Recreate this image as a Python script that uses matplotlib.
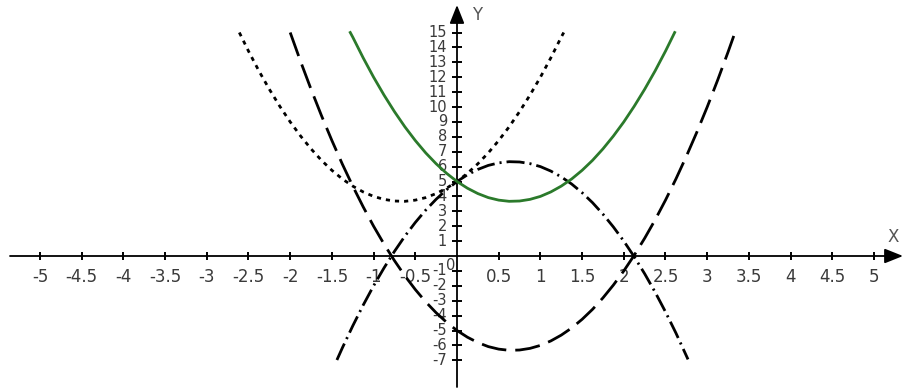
import matplotlib
matplotlib.use("Agg")
import matplotlib.pyplot as plt
import numpy as np

plt.rcParams['lines.scale_dashes'] = False

# ---- data ----
green_x = [-1.28, -1.25, -1.125, -1.0, -0.875, -0.75, -0.625, -0.5, -0.375, -0.25, -0.125, 0.0,
           0.125, 0.25, 0.375, 0.5, 0.625, 0.75, 0.875, 1.0, 1.125, 1.25, 1.375, 1.5, 1.625,
           1.75, 1.875, 2.0, 2.125, 2.25, 2.375, 2.5, 2.61]
green_y = [15.0, 14.69, 13.30, 12.0, 10.80, 9.69, 8.67, 7.75, 6.92, 6.19, 5.55, 5.0,
           4.55, 4.19, 3.92, 3.75, 3.67, 3.69, 3.80, 4.0, 4.30, 4.69, 5.17, 5.75, 6.42,
           7.19, 8.05, 9.0, 10.05, 11.19, 12.42, 13.75, 15.0]

dotted_x = [-2.61, -2.5, -2.375, -2.25, -2.125, -2.0, -1.875, -1.75, -1.625, -1.5, -1.375, -1.25,
            -1.125, -1.0, -0.875, -0.75, -0.625, -0.5, -0.375, -0.25, -0.125, 0.0, 0.125, 0.25,
            0.375, 0.5, 0.625, 0.75, 0.875, 1.0, 1.125, 1.25, 1.28]
dotted_y = [15.0, 13.75, 12.42, 11.19, 10.05, 9.0, 8.05, 7.19, 6.42, 5.75, 5.17, 4.69,
            4.30, 4.0, 3.80, 3.69, 3.67, 3.75, 3.92, 4.19, 4.55, 5.0, 5.55, 6.19,
            6.92, 7.75, 8.67, 9.69, 10.80, 12.0, 13.30, 14.69, 15.0]

dashdot_x = [-1.44, -1.375, -1.25, -1.125, -1.0, -0.875, -0.75, -0.625, -0.5, -0.375, -0.25, -0.125,
             0.0, 0.125, 0.25, 0.375, 0.5, 0.625, 0.75, 0.875, 1.0, 1.125, 1.25, 1.375, 1.5,
             1.625, 1.75, 1.875, 2.0, 2.125, 2.25, 2.375, 2.5, 2.625, 2.77]
dashdot_y = [-6.98, -6.17, -4.69, -3.30, -2.0, -0.80, 0.31, 1.33, 2.25, 3.08, 3.81, 4.45,
             5.0, 5.45, 5.81, 6.08, 6.25, 6.33, 6.31, 6.20, 6.0, 5.70, 5.31, 4.83, 4.25,
             3.58, 2.81, 1.95, 1.0, -0.05, -1.19, -2.42, -3.75, -5.17, -6.94]

dash_x = [-2.0, -1.875, -1.75, -1.625, -1.5, -1.375, -1.25, -1.125, -1.0, -0.875, -0.75, -0.625,
          -0.5, -0.375, -0.25, -0.125, 0.0, 0.125, 0.25, 0.375, 0.5, 0.625, 0.75, 0.875, 1.0,
          1.125, 1.25, 1.375, 1.5, 1.625, 1.75, 1.875, 2.0, 2.125, 2.25, 2.375, 2.5, 2.625,
          2.75, 2.875, 3.0, 3.125, 3.25, 3.33]
dash_y = [15.0, 13.05, 11.19, 9.42, 7.75, 6.17, 4.69, 3.30, 2.0, 0.80, -0.31, -1.33,
          -2.25, -3.08, -3.81, -4.45, -5.0, -5.45, -5.81, -6.08, -6.25, -6.33, -6.31, -6.20, -6.0,
          -5.70, -5.31, -4.83, -4.25, -3.58, -2.81, -1.95, -1.0, 0.05, 1.19, 2.42, 3.75, 5.17,
          6.69, 8.30, 10.0, 11.80, 13.69, 14.95]

x_ticks = [-5, -4.5, -4, -3.5, -3, -2.5, -2, -1.5, -1, -0.5, 0.5, 1, 1.5, 2, 2.5, 3, 3.5, 4, 4.5, 5]
x_tick_labels = ['-5', '-4.5', '-4', '-3.5', '-3', '-2.5', '-2', '-1.5', '-1', '-0.5',
                 '0.5', '1', '1.5', '2', '2.5', '3', '3.5', '4', '4.5', '5']
y_ticks = [-7, -6, -5, -4, -3, -2, -1, 1, 2, 3, 4, 5, 6, 7, 8, 9, 10, 11, 12, 13, 14, 15]
y_tick_labels = [str(v) for v in y_ticks]

# ---- layout (pixel mapping) ----
W, H = 912, 389
ox, oy = 457.0, 256.0      # origin pixel
ux, uy = 83.4, 14.9        # pixels per unit

fig = plt.figure(figsize=(W / 100, H / 100), dpi=100)
ax = fig.add_axes([0, 0, 1, 1])
ax.set_xlim(-ox / ux, (W - ox) / ux)
ax.set_ylim(-(H - oy) / uy, oy / uy)
ax.axis('off')

txt_color = '#3a3a3a'
font = 'DejaVu Sans'

# axes with arrows
x_left, x_right = (10 - ox) / ux, (903 - ox) / ux
y_bottom, y_top = (oy - 387) / uy, (oy - 5) / uy
arrow = dict(arrowstyle='-|>,head_length=0.8,head_width=0.32', lw=1.3, color='black',
             mutation_scale=14, shrinkA=0, shrinkB=0)
ax.annotate('', xy=(x_right, 0), xytext=(x_left, 0), arrowprops=arrow, zorder=2)
ax.annotate('', xy=(0, y_top), xytext=(0, y_bottom), arrowprops=arrow, zorder=2)

# tick marks
ax.plot(x_ticks, np.zeros(len(x_ticks)), linestyle='none', marker='|', ms=6, mew=1.4, color='black', zorder=2)
ax.plot(np.zeros(len(y_ticks)), y_ticks, linestyle='none', marker='_', ms=7, mew=1.4, color='black', zorder=2)

# tick labels
for xv, lab in zip(x_ticks, x_tick_labels):
    ax.text(xv, -21 / uy, lab, ha='center', va='center', fontsize=12, color=txt_color, family=font)
for yv, lab in zip(y_ticks, y_tick_labels):
    ax.text(-10 / ux, yv, lab, ha='right', va='center', fontsize=10.5, color=txt_color, family=font)
ax.text(-2 / ux, -10 / uy, '0', ha='right', va='center', fontsize=10.5, color=txt_color, family=font)

# axis names
ax.text((893 - ox) / ux, (oy - 237) / uy, 'X', ha='center', va='center', fontsize=12, color='#555555', family=font)
ax.text((477 - ox) / ux, (oy - 15) / uy, 'Y', ha='center', va='center', fontsize=12, color='#555555', family=font)

lw = 2.0
ax.plot(dotted_x, dotted_y, color='black', lw=lw, dashes=(3.0, 3.6), zorder=3)
ax.plot(dash_x, dash_y, color='black', lw=lw, dashes=(18, 6.5), zorder=3)
ax.plot(dashdot_x, dashdot_y, color='black', lw=lw, dashes=(13, 3.6, 1.5, 3.6), zorder=3)
ax.plot(green_x, green_y, color='#2b7a2b', lw=lw, zorder=4)

fig.savefig('out.png', dpi=100)
